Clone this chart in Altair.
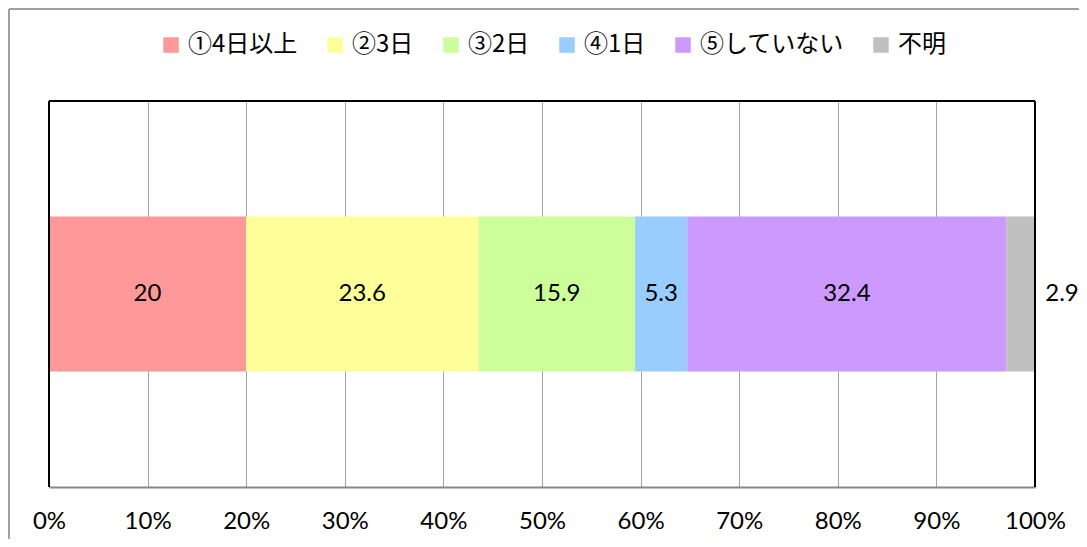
import altair as alt
import pandas as pd

categories = ["①4日以上", "②3日", "③2日", "④1日", "⑤していない", "不明"]
values = [20, 23.6, 15.9, 5.3, 32.4, 2.9]
colors = ["#FF9999", "#FFFF99", "#CCFF99", "#99CCFF", "#CC99FF", "#C0C0C0"]
tick_values = [0, 0.1, 0.2, 0.3, 0.4, 0.5, 0.6, 0.7, 0.8, 0.9, 1.0]

df = pd.DataFrame({"cat": categories, "value": values, "order": list(range(len(categories))), "grp": ["a"] * len(categories)})

W, H = 986, 386
LAT = "Lato"
JP = "Noto Sans CJK JP"

base = alt.Chart(df)

bars = base.mark_bar(size=155).encode(
    x=alt.X("value:Q", stack="normalize",
            scale=alt.Scale(domain=[0, 1], nice=False),
            axis=alt.Axis(values=tick_values, format=".0%", title=None,
                          labelFont=LAT, labelFontSize=24, labelColor="black",
                          labelPadding=22, tickSize=0, domainColor="#868686",
                          domainWidth=2, gridColor="#A6A6A6", gridWidth=1,
                          labelFlush=False)),
    y=alt.Y("grp:N", axis=None),
    color=alt.Color("cat:N", scale=alt.Scale(domain=categories, range=colors),
                    sort=categories,
                    legend=alt.Legend(title=None, orient="none", direction="horizontal",
                                      legendX=110, legendY=-68,
                                      symbolType="square", symbolSize=240,
                                      symbolStrokeWidth=0, symbolOpacity=1,
                                      labelFont=JP, labelFontSize=24, labelColor="black",
                                      labelLimit=300, columnPadding=25, symbolOffset=0,
                                      labelOffset=5)),
    order=alt.Order("order:Q"),
)

pos = base.transform_joinaggregate(total="sum(value)").transform_window(
    cum="sum(value)", sort=[alt.SortField("order")], frame=[None, 0]
).transform_calculate(
    mid="(datum.cum - datum.value / 2) / datum.total",
    endv="datum.cum / datum.total",
)

labels_in = pos.transform_filter(alt.datum.cat != "不明").mark_text(
    font=LAT, fontSize=24, color="black", baseline="middle", align="center"
).encode(
    x=alt.X("mid:Q"),
    y=alt.Y("grp:N", axis=None),
    text=alt.Text("value:Q"),
)

labels_out = pos.transform_filter(alt.datum.cat == "不明").mark_text(
    font=LAT, fontSize=24, color="black", baseline="middle", align="center", dx=27
).encode(
    x=alt.X("endv:Q"),
    y=alt.Y("grp:N", axis=None),
    text=alt.Text("value:Q"),
)

frame_df = pd.DataFrame({"x": [0, 1]})
vframe = alt.Chart(frame_df).mark_rule(color="black", strokeWidth=2).encode(
    x=alt.X("x:Q"), y=alt.value(0), y2=alt.value(H)
)
top_frame = alt.Chart(frame_df).mark_rule(color="black", strokeWidth=2).encode(
    x=alt.value(0), x2=alt.value(W), y=alt.value(0)
)
outer_left = alt.Chart(frame_df).mark_rule(color="#A0A0A0", strokeWidth=2).encode(
    x=alt.value(-40), y=alt.value(-92), y2=alt.value(H + 60)
)
outer_top = alt.Chart(frame_df).mark_rule(color="#A0A0A0", strokeWidth=2).encode(
    x=alt.value(-40), x2=alt.value(W + 60), y=alt.value(-92)
)

chart = alt.layer(bars, labels_in, labels_out, vframe, top_frame, outer_left, outer_top).properties(
    width=W, height=H,
    autosize=alt.AutoSizeParams(type="none"),
    padding={"left": 41, "top": 93, "right": 44, "bottom": 52},
).configure_view(stroke=None).configure_scale(bandPaddingInner=0, bandPaddingOuter=0)

chart.save("out.html", embed_options={"renderer": "svg", "actions": False})
